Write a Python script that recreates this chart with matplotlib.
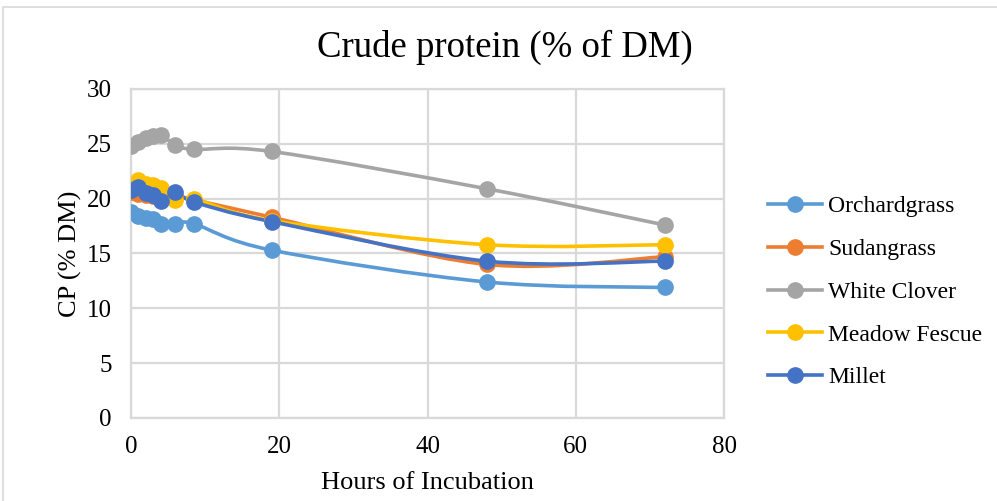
import numpy as np
import matplotlib
matplotlib.use('Agg')
import matplotlib.pyplot as plt
from matplotlib.path import Path
from matplotlib.patches import PathPatch, Rectangle
from matplotlib.lines import Line2D

plt.rcParams['font.family'] = ['Liberation Serif', 'DejaVu Serif']

# hours of incubation
hours = [0, 1, 2, 3, 4, 6, 8.5, 19, 48, 72]

orchardgrass = [18.8, 18.4, 18.2, 18.1, 17.7, 17.7, 17.7, 15.3, 12.4, 11.9]
sudangrass = [20.6, 20.4, 20.3, 20.2, 20.0, 20.2, 19.9, 18.3, 14.0, 14.7]
white_clover = [24.8, 25.2, 25.5, 25.7, 25.8, 24.9, 24.5, 24.3, 20.9, 17.6]
meadow_fescue = [20.9, 21.7, 21.3, 21.2, 21.0, 19.9, 20.0, 18.0, 15.8, 15.8]
millet = [20.8, 21.1, 20.5, 20.3, 19.8, 20.6, 19.7, 17.9, 14.3, 14.3]

series = [
    ('Orchardgrass', orchardgrass, '#5B9BD5'),
    ('Sudangrass', sudangrass, '#ED7D31'),
    ('White Clover', white_clover, '#A5A5A5'),
    ('Meadow Fescue', meadow_fescue, '#FFC000'),
    ('Millet', millet, '#4472C4'),
]


def smooth_path(x, y, t=1.0 / 6):
    # excel style smoothed line: cubic bezier through every point
    x = np.asarray(x, float)
    y = np.asarray(y, float)
    n = len(x)
    verts = [(x[0], y[0])]
    codes = [Path.MOVETO]
    for i in range(n - 1):
        p0 = np.array([x[max(i - 1, 0)], y[max(i - 1, 0)]])
        p1 = np.array([x[i], y[i]])
        p2 = np.array([x[i + 1], y[i + 1]])
        p3 = np.array([x[min(i + 2, n - 1)], y[min(i + 2, n - 1)]])
        c1 = p1 + (p2 - p0) * t
        c2 = p2 - (p3 - p1) * t
        verts += [tuple(c1), tuple(c2), tuple(p2)]
        codes += [Path.CURVE4] * 3
    return Path(verts, codes)


fig = plt.figure(figsize=(9.97, 5.01), dpi=100)
ax = fig.add_axes([0.1314, 0.1657, 0.5948, 0.6567])

grid_col = '#D9D9D9'
for name, vals, col in series:
    ax.add_patch(PathPatch(smooth_path(hours, vals), facecolor='none', edgecolor=col,
                           linewidth=2.6, capstyle='round', joinstyle='round', zorder=3))
    ax.plot(hours, vals, linestyle='none', marker='o', markersize=11, color=col, zorder=4)

ax.set_xlim(0, 80)
ax.set_ylim(0, 30)
ax.set_xticks([0, 20, 40, 60, 80])
ax.set_yticks(range(0, 31, 5))
ax.grid(True, color=grid_col, linewidth=1.6)
ax.set_axisbelow(True)
for s in ax.spines.values():
    s.set_color(grid_col)
    s.set_linewidth(1.6)
ax.tick_params(length=0, labelsize=18)
ax.tick_params(axis='x', pad=13)
ax.tick_params(axis='y', pad=14)
ax.set_xlabel('Hours of Incubation', fontsize=19, labelpad=10)
ax.set_ylabel('CP (% DM)', fontsize=19, labelpad=3)

fig.text(0.5065, 0.905, 'Crude protein (% of DM)', ha='center', va='center', fontsize=26.5)

handles = [Line2D([], [], color=c, linewidth=2.6, marker='o', markersize=11) for _, _, c in series]
fig.legend(handles, [n for n, _, _ in series], loc='center left', bbox_to_anchor=(0.749, 0.417),
           frameon=False, fontsize=17, handlelength=2.3, labelspacing=0.9, handletextpad=0.25)

# outer chart border
fig.patches.append(Rectangle((0.003, -0.01), 1.1, 0.996, transform=fig.transFigure,
                             fill=False, edgecolor='#D9D9D9', linewidth=1.2))

fig.savefig('out.png', dpi=100)
